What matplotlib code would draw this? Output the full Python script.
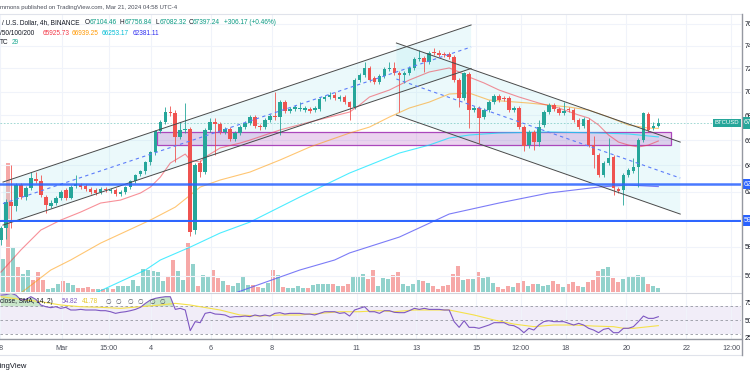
import matplotlib.pyplot as plt
from matplotlib.patches import Rectangle, Polygon
from matplotlib.lines import Line2D
from matplotlib.ticker import NullLocator
import matplotlib.transforms as mtransforms

plt.rcParams['font.family'] = ['Liberation Sans', 'DejaVu Sans']

W, H = 750, 375

# BTCUSD 4h candles, index 0 = Feb 28 00:00 (UTC-4)
opens = [58465, 59320, 61220, 60930, 62500, 61600, 62270, 62950, 62800, 61600,
         60930, 61150, 61520, 62120, 61520, 62420, 62500, 62420, 62200, 62120,
         61970, 62200, 62040, 62120, 61820, 61970, 62350, 62800, 63340, 63570,
         64270, 65050, 66730, 67460, 68280, 68200, 66240, 66810, 66890, 59180,
         64190, 63490, 66810, 67460, 67300, 66650, 66890, 66080, 66570, 67050,
         67380, 67870, 67130, 67050, 67620, 67950, 67870, 69110, 68370, 68530,
         68530, 68450, 68530, 68450, 68530, 69370, 69540, 69710, 69370, 69540,
         69110, 68700, 70985, 71417, 72030, 71160, 70810, 71330, 71940, 72030,
         71590, 71420, 71590, 72030, 72820, 72900, 72550, 73440, 73350, 73260,
         73260, 72990, 70985, 69450, 71500, 68450, 68610, 67870, 68450, 69110,
         69620, 69450, 69450, 68450, 68610, 67050, 65600, 66650, 65840, 67215,
         68280, 68865, 68530, 68200, 68530, 68450, 67620, 67130, 67620, 65604,
         64813, 63260, 64190, 64660, 62200, 62120, 63260, 63570, 63880, 66003,
         68110, 66970, 67104]
highs = [59470, 61440, 64030, 62650, 62650, 62420, 63490, 63490, 63260, 61740,
         61370, 61670, 62120, 62270, 62500, 63260, 62650, 62570, 62350, 62270,
         62350, 62350, 62270, 62270, 62120, 62420, 62880, 63340, 63650, 64340,
         65130, 66810, 67620, 68700, 68780, 68450, 67460, 69030, 67050, 64190,
         64420, 66970, 67790, 67790, 67460, 67050, 67050, 66730, 67210, 67540,
         68030, 68030, 67300, 67790, 68110, 69960, 69280, 69280, 68700, 68870,
         69110, 68780, 68700, 68780, 69540, 69710, 69960, 69960, 69710, 69710,
         69200, 71150, 71590, 72550, 72200, 71330, 71500, 72110, 72550, 72550,
         71760, 71770, 72200, 72990, 73610, 73080, 73520, 73790, 73610, 73440,
         73440, 73170, 71160, 71680, 71680, 68780, 68780, 68610, 69280, 69790,
         69790, 69620, 69620, 68780, 68780, 67210, 66810, 66810, 67620, 68450,
         69030, 69030, 68700, 69110, 68700, 68610, 67790, 67870, 67790, 66320,
         64970, 64340, 66160, 64810, 62350, 63420, 63800, 64580, 66160, 68280,
         68280, 67460, 67757]
lows = [58111, 58540, 59320, 60560, 61450, 61370, 62120, 62650, 61600, 60410,
        60780, 61000, 61370, 61370, 61450, 62270, 62200, 62040, 61820, 61740,
        61820, 61970, 61890, 61670, 61670, 61820, 62200, 62650, 63180, 63340,
        64030, 64810, 66570, 67300, 67950, 64270, 66080, 66570, 58750, 58890,
        63110, 63340, 66650, 64810, 66490, 66490, 65920, 65920, 66400, 66890,
        67210, 66970, 66810, 66890, 67460, 67620, 66400, 68200, 68200, 68370,
        68370, 68280, 68200, 68280, 68370, 69200, 69370, 69280, 69200, 68950,
        67620, 68530, 70810, 71240, 70810, 70640, 70640, 71160, 71770, 71420,
        68280, 70730, 71420, 71850, 72640, 71680, 72380, 73170, 72990, 72990,
        72820, 70810, 68700, 69280, 66970, 68280, 65760, 67710, 68280, 68950,
        69110, 69200, 68280, 68280, 66890, 65130, 65370, 65210, 65520, 67050,
        68110, 68370, 68030, 68030, 68280, 67460, 66890, 66970, 65450, 63800,
        63110, 63110, 64030, 61740, 61890, 61000, 63110, 63420, 62350, 65840,
        66650, 66810, 67082]
closes = [59320, 61220, 60930, 62500, 61600, 62270, 63030, 62800, 61740, 61000,
          61150, 61520, 61970, 61520, 62350, 62570, 62350, 62200, 61970, 61890,
          62200, 62120, 62120, 61820, 61970, 62350, 62800, 63260, 63570, 64270,
          65050, 66730, 67460, 68280, 68200, 66240, 66810, 66890, 59030, 64030,
          63490, 66810, 67460, 67300, 66650, 66890, 66080, 66570, 67050, 67380,
          67870, 67130, 67050, 67620, 67950, 67870, 69110, 68370, 68530, 68700,
          68610, 68610, 68370, 68610, 69370, 69540, 69710, 69450, 69540, 69110,
          68700, 70985, 71417, 72030, 70985, 70810, 71330, 71940, 72030, 71590,
          71420, 71590, 72030, 72820, 72900, 72550, 73350, 73350, 73170, 73170,
          72990, 70985, 69450, 71590, 68450, 68610, 67790, 68450, 69110, 69620,
          69280, 69370, 68450, 68610, 67050, 65520, 66650, 65840, 67050, 68280,
          68865, 68530, 68200, 68370, 68450, 67620, 67050, 67700, 65604, 64813,
          63260, 64190, 64580, 62270, 62040, 63260, 63645, 63880, 66003, 68200,
          66810, 67130, 67397.24]
volume = [28, 33, 129, 45, 25, 18, 22, 12, 20, 12,
          3, 4, 8, 11, 9, 7, 4, 4, 5, 3,
          3, 3, 4, 3, 6, 6, 6, 12, 6, 23,
          22, 21, 20, 11, 15, 32, 21, 12, 49, 28,
          6, 17, 16, 22, 14, 11, 7, 6, 9, 16,
          7, 7, 5, 4, 9, 22, 17, 5, 4, 4,
          6, 4, 4, 7, 8, 8, 8, 8, 6, 6,
          8, 16, 15, 18, 13, 22, 6, 14, 13, 17,
          20, 8, 6, 8, 12, 11, 9, 6, 3, 6,
          7, 18, 26, 12, 13, 13, 20, 14, 15, 9,
          5, 3, 6, 5, 9, 11, 6, 8, 8, 6,
          7, 11, 8, 5, 8, 10, 6, 5, 10, 12,
          21, 23, 25, 14, 10, 13, 16, 16, 17, 16,
          8, 6, 4]
rsi = [86.4, 87.0, 88.9, 86.4, 79.2, 80.1, 84.0, 80.1, 71.9, 69.4,
       68.0, 69.4, 67.0, 68.5, 64.6, 64.6, 65.5, 64.6, 64.6, 64.6,
       63.6, 63.6, 62.1, 59.7, 61.2, 62.1, 63.6, 65.5, 68.5, 74.3,
       79.2, 81.6, 83.0, 84.0, 84.0, 65.5, 67.0, 64.6, 34.5, 47.6,
       46.1, 59.7, 61.2, 58.7, 58.3, 57.3, 53.9, 54.9, 54.9, 55.8,
       54.9, 57.3, 55.8, 57.3, 55.8, 59.7, 60.7, 58.7, 59.7, 59.7,
       59.7, 58.7, 58.7, 57.3, 59.7, 62.1, 62.1, 62.1, 59.7, 60.7,
       55.8, 64.6, 67.0, 69.4, 62.1, 62.1, 59.7, 63.6, 63.6, 61.2,
       60.7, 60.7, 63.6, 67.0, 65.5, 67.0, 65.5, 65.5, 65.5, 64.6,
       64.6, 47.6, 39.3, 49.0, 39.3, 39.3, 37.9, 40.3, 42.7, 46.1,
       46.1, 46.1, 42.7, 41.7, 37.9, 31.5, 37.9, 35.4, 42.7, 47.6,
       49.0, 47.6, 47.6, 47.6, 45.1, 42.7, 45.1, 42.7, 37.9, 35.4,
       31.5, 36.4, 37.9, 31.5, 31.5, 37.9, 37.9, 40.3, 47.6, 55.8,
       52.4, 52.4, 54.82]
rsi_sma_idx = [0, 4, 8, 12, 16, 20, 24, 28, 32, 35, 38, 40, 44, 48, 52, 56, 60, 64,
               68, 72, 76, 79, 83, 87, 90, 95, 99, 103, 107, 111, 115, 119, 123,
               125, 127, 132]
rsi_sma = [84.0, 80.1, 76.7, 71.9, 69.4, 68.5, 67.0, 69.4, 71.9, 74.3, 71.9, 69.4,
           64.6, 57.3, 55.8, 57.3, 57.3, 59.7, 62.1, 62.1, 63.6, 62.1, 64.6, 64.6,
           64.6, 57.3, 50.0, 44.1, 40.3, 42.7, 42.7, 41.2, 40.3, 37.9, 37.9, 41.78]

ma20_idx = [0, 4, 8, 12, 16, 20, 24, 28, 30, 32, 34, 36, 37, 38, 40, 41, 44, 48,
            50, 56, 62, 66, 70, 72, 74, 78, 82, 86, 90, 92, 94, 97, 100, 104, 108,
            112, 116, 118, 120, 122, 124, 126, 128, 130, 132]
ma20 = [56240, 57770, 59180, 59900, 60485, 61150, 61370, 61895, 62345, 63105,
        64190, 64655, 64890, 64420, 64265, 64655, 65370, 65760, 66000, 66810,
        67460, 67870, 68280, 68865, 69540, 70130, 70985, 71680, 72030, 71680,
        71240, 70730, 70130, 69540, 69030, 68615, 68035, 67790, 67215, 66405,
        65840, 65604, 65445, 65604, 65925.73]
ma50_idx = [4, 10, 14, 20, 30, 35, 40, 44, 50, 56, 62, 66, 70, 74, 78, 82, 86, 90,
            94, 98, 106, 114, 118, 122, 126, 130, 132]
ma50 = [54830, 56380, 57070, 58250, 59900, 60850, 62345, 62880, 63490, 64420,
        65445, 66003, 66565, 67050, 67870, 68615, 69110, 69790, 69875, 69284,
        69030, 68700, 68449, 67870, 67215, 66970, 66939.25]
ma100_idx = [19, 29, 32, 38, 44, 50, 60, 70, 80, 86, 90, 94, 100, 110, 120, 126, 132]
ma100 = [54830, 56380, 57070, 57970, 58965, 59755, 61595, 63415, 64970, 65604,
         66165, 66405, 66570, 66650, 66570, 66490, 66253.17]
ma200_idx = [47, 60, 67, 70, 80, 90, 100, 110, 120, 126, 132]
ma200 = [54830, 56380, 57070, 57560, 58680, 60340, 61150, 61895, 62345, 62497,
         62381.11]

# drawings: (index, price) anchors
asc_upper = [(0.4, 62725), (94.4, 75881)]
asc_lower = [(0.4, 59538), (94.4, 71982)]
asc_mid = [(0.4, 61110), (94.4, 73884)]
desc_upper = [(79.4, 74242), (136.4, 65840)]
desc_lower = [(79.4, 68035), (136.4, 60337)]
desc_mid = [(79.4, 71070), (136.4, 63030)]
zone = (31.4, 134.6, 65604, 66650)
levels = [62573, 59864]

price_ticks = [56000, 58000, 60000, 62000, 64000, 66000, 68000, 70000, 72000, 74000, 76000]
time_ticks = [-0.2, 12.2, 21.6, 30.2, 42.2, 54.4, 71.4, 83.4, 95.4, 104.4, 113.4,
              125.6, 137.6, 146.6]
time_labels = ['28', 'Mar', '15:00', '4', '6', '8', '11', '13', '15', '12:00', '18',
               '20', '22', '12:00']

UP, DOWN = '#26a69a', '#ef5350'
GRID = '#f0f3fa'
TXT = '#131722'


def fpos(x, y):
    return x / W, 1 - y / H


fig = plt.figure(figsize=(W / 100, H / 100), dpi=100)
fig.patch.set_facecolor('white')

main_rect = [0, 1 - 292 / H, 741 / W, 278 / H]
rsi_rect = [0, 1 - 339 / H, 741 / W, 46 / H]

ax_vol = fig.add_axes(main_rect, zorder=0)
ax = fig.add_axes(main_rect, zorder=1)
ax.patch.set_visible(False)
ax_rsi = fig.add_axes(rsi_rect)

n = len(closes)
idx = list(range(n))
xlim = (0.4, 148.6)

# volume
vcol = [UP if c >= o else DOWN for o, c in zip(opens, closes)]
ax_vol.bar(idx, volume, width=0.8, color=vcol, alpha=0.5, linewidth=0)
ax_vol.set_xlim(*xlim)
ax_vol.set_ylim(0, 278)
ax_vol.axis('off')

# price pane
ax.set_yscale('log')
ax.set_xlim(*xlim)
ax.set_ylim(54898, 76899)
ax.set_yticks(price_ticks)
ax.yaxis.set_minor_locator(NullLocator())
ax.set_yticklabels([f'{v:.2f}' for v in price_ticks])
ax.yaxis.tick_right()
ax.tick_params(axis='y', length=0, pad=2.5, labelsize=5, labelcolor=TXT)
ax.set_xticks(time_ticks)
ax.tick_params(axis='x', length=0, labelbottom=False)
ax.grid(True, color=GRID, lw=0.8)
ax.set_axisbelow(True)
for s in ax.spines.values():
    s.set_visible(False)

# channels
poly = [asc_upper[0], asc_upper[1], asc_lower[1], asc_lower[0]]
ax.add_patch(Polygon(poly, closed=True, fc='#b2ebf2', alpha=0.25, ec='none', zorder=1))
poly = [desc_upper[0], desc_upper[1], desc_lower[1], desc_lower[0]]
ax.add_patch(Polygon(poly, closed=True, fc='#b2ebf2', alpha=0.25, ec='none', zorder=1))

# support zone
x0, x1, y0, y1 = zone
ax.add_patch(Rectangle((x0, y0), x1 - x0, y1 - y0, fc='#9c27b0', alpha=0.2, ec='none', zorder=1.5))
ax.add_patch(Rectangle((x0, y0), x1 - x0, y1 - y0, fc='none', ec='#ab47bc', lw=0.9, zorder=1.6))

# moving averages
ax.plot(ma200_idx, ma200, color='#5b5bf5', alpha=0.8, lw=0.8, zorder=2)
ax.plot(ma100_idx, ma100, color='#00e5ff', alpha=0.7, lw=0.8, zorder=2)
ax.plot(ma50_idx, ma50, color='#ff9800', alpha=0.55, lw=0.8, zorder=2)
ax.plot(ma20_idx, ma20, color='#f23645', alpha=0.55, lw=0.8, zorder=2)

# candles
for i in idx:
    o, h, l, c = opens[i], highs[i], lows[i], closes[i]
    col = UP if c >= o else DOWN
    ax.vlines(i, l, h, color=col, lw=0.6, zorder=3)
    lo, hi = min(o, c), max(o, c)
    if hi - lo < 60:
        hi = lo + 60
    ax.bar(i, hi - lo, bottom=lo, width=0.72, color=col, linewidth=0, zorder=3.1)

# channel lines
for line in [asc_upper, asc_lower, desc_upper, desc_lower]:
    ax.plot([p[0] for p in line], [p[1] for p in line], color='#4a4a4a', lw=0.7, zorder=4)
for line in [asc_mid, desc_mid]:
    ax.plot([p[0] for p in line], [p[1] for p in line], color='#5c7cfa', lw=0.8,
            ls=(0, (3, 3)), zorder=4)

# horizontal levels
ax.axhline(levels[0], color='#2962ff', lw=1.8, alpha=0.85, zorder=4)
ax.axhline(levels[1], color='#2962ff', lw=1.4, zorder=4)
ax.axhline(closes[-1], color=UP, lw=0.6, ls=(0, (2, 2)), alpha=0.5, zorder=2)

# price labels on the axis
trans = mtransforms.blended_transform_factory(ax.transAxes, ax.transData)
ax.text(1.004, closes[-1], f'{closes[-1]:.2f}', transform=trans, fontsize=5, color='white',
        va='center', ha='left', clip_on=False, zorder=6,
        bbox=dict(boxstyle='square,pad=0.35', fc=UP, ec='none'))
for lv in levels:
    ax.text(1.004, lv, f'{lv:.2f}', transform=trans, fontsize=5, color='white',
            va='center', ha='left', clip_on=False, zorder=6,
            bbox=dict(boxstyle='square,pad=0.25', fc='#2962ff', ec='none'))
ax.text(727 / 741, closes[-1], 'BTCUSD', transform=trans, fontsize=4.3, color='white',
        va='center', ha='center', zorder=6,
        bbox=dict(boxstyle='square,pad=0.3', fc=UP, ec='none'))

# RSI pane
ax_rsi.set_xlim(*xlim)
ax_rsi.set_ylim(22.3, 89.4)
ax_rsi.axhspan(30, 70, color='#7e57c2', alpha=0.1, lw=0)
for lv in (70, 50, 30):
    ax_rsi.axhline(lv, color='#9598a1', lw=0.6, ls=(0, (3, 3)))
ax_rsi.fill_between(idx, 70, rsi, where=[r > 70 for r in rsi], color='#4caf50',
                    alpha=0.3, lw=0, interpolate=True)
ax_rsi.plot(rsi_sma_idx, rsi_sma, color='#f5e14a', lw=0.8)
ax_rsi.plot(idx, rsi, color='#7e57c2', lw=0.8)
ax_rsi.set_yticks([25, 50, 75])
ax_rsi.yaxis.tick_right()
ax_rsi.tick_params(axis='y', length=0, pad=2.5, labelsize=5, labelcolor=TXT)
ax_rsi.set_xticks(time_ticks)
ax_rsi.set_xticklabels(time_labels)
ax_rsi.tick_params(axis='x', length=0, pad=4.3, labelsize=5.2, labelcolor='#4a4e5a')
ax_rsi.grid(True, axis='x', color=GRID, lw=0.8)
for s in ax_rsi.spines.values():
    s.set_visible(False)

# frame lines
for (xa, ya, xb, yb, col, lw) in [(0, 14, 741, 14, '#e0e3eb', 0.8),
                                 (0, 292.5, 741, 292.5, '#d1d4dc', 0.8),
                                 (0, 339, 741, 339, '#9598a1', 1.0),
                                 (0, 355, 741, 355, '#e0e3eb', 0.8),
                                 (741.5, 14, 741.5, 355, '#9598a1', 1.0)]:
    p0, p1 = fpos(xa, ya), fpos(xb, yb)
    fig.add_artist(Line2D([p0[0], p1[0]], [p0[1], p1[1]], color=col, lw=lw))

# header texts
fs = 4.7
fig.text(*fpos(0, 8), 'mmons published on TradingView.com, Mar 21, 2024 04:58 UTC-4',
         fontsize=4.35, color='#4a4e5a', va='center')
fig.text(*fpos(2, 23), '/ U.S. Dollar, 4h, BINANCE', fontsize=fs, color=TXT, va='center')
for x, lab, val in [(85, 'O', '67104.46'), (120, 'H', '67756.84'),
                    (155, 'L', '67082.32'), (188.5, 'C', '67397.24')]:
    fig.text(*fpos(x, 23), lab, fontsize=fs, color=TXT, va='center')
    fig.text(*fpos(x + 4.5, 23), val, fontsize=fs, color='#089981', va='center')
fig.text(*fpos(224, 23), '+306.17 (+0.46%)', fontsize=fs, color='#089981', va='center')
fig.text(*fpos(0, 33.3), '/50/100/200', fontsize=fs, color=TXT, va='center')
for x, val, col in [(43, '65925.73', '#f23645'), (72, '66939.25', '#ff9800'),
                    (102, '66253.17', '#00bcd4'), (133, '62381.11', '#2e2ef0')]:
    fig.text(*fpos(x, 33.3), val, fontsize=fs, color=col, va='center')
fig.text(*fpos(0, 42.3), 'TC', fontsize=fs, color=TXT, va='center')
fig.text(*fpos(12, 42.3), '29', fontsize=fs, color='#22ab94', va='center')

fig.text(*fpos(0, 301.7), 'close, SMA, 14, 2)', fontsize=fs, color=TXT, va='center')
fig.text(*fpos(62, 301.7), '54.82', fontsize=fs, color='#7e57c2', va='center')
fig.text(*fpos(82, 301.7), '41.78', fontsize=fs, color='#e8c92a', va='center')
for x in (105, 116, 127, 138, 149, 160):
    fig.text(*fpos(x, 301.7), '\u2205', fontsize=fs, color='#4a4e5a', va='center',
             family=['DejaVu Sans'])

fig.text(*fpos(27, 366), 'TradingView', fontsize=5.5, color=TXT, va='center', ha='right')

fig.savefig('out.png', dpi=100)
